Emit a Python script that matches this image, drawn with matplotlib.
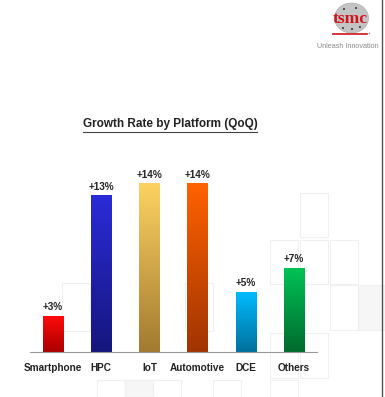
import numpy as np
import matplotlib
matplotlib.use('Agg')
import matplotlib.pyplot as plt
from matplotlib.colors import LinearSegmentedColormap
from matplotlib.patches import Rectangle, Ellipse
from matplotlib.lines import Line2D

plt.rcParams['font.family'] = ['Liberation Sans', 'DejaVu Sans']

# ---------------- 数据 ----------------
categories = ['Smartphone', 'HPC', 'IoT', 'Automotive', 'DCE', 'Others']
growth = [3, 13, 14, 14, 5, 7]
top_colors = ['#ff0a0a', '#2b2bd8', '#fdd262', '#ff6200', '#00bbff', '#00c256']
bottom_colors = ['#a80000', '#16167e', '#a27a30', '#a03400', '#00709c', '#006a2e']
title = 'Growth Rate by Platform (QoQ)'

W, H = 385, 397
fig = plt.figure(figsize=(W / 100, H / 100), dpi=100)


def fx(x):
    return x / W


def fy(y):
    # 像素坐标（从上往下）转成figure坐标
    return 1 - y / H


# 背景里淡淡的方格（放在最底层）
boxes = [(300, 193, 28, 44), (270, 240, 28, 44), (300, 240, 28, 44), (330, 240, 28, 44),
         (330, 285, 28, 45), (270, 333, 28, 45), (300, 333, 28, 45), (185, 283, 28, 48),
         (62, 283, 28, 48), (97, 380, 28, 17), (153, 380, 28, 17), (213, 380, 28, 17),
         (270, 380, 28, 17)]
for bx, by, bw, bh in boxes:
    fig.patches.append(Rectangle((fx(bx), fy(by + bh)), bw / W, bh / H, transform=fig.transFigure,
                                 facecolor='none', edgecolor='#f0f0f0', lw=0.8, zorder=-2))
for bx, by, bw, bh in [(358, 285, 27, 45), (125, 380, 28, 17)]:
    fig.patches.append(Rectangle((fx(bx), fy(by + bh)), bw / W, bh / H, transform=fig.transFigure,
                                 facecolor='#f6f6f6', edgecolor='#f0f0f0', lw=0.8, zorder=-2))

# ---------------- 柱状图 ----------------
ax = fig.add_axes([fx(30), fy(352), (317 - 30) / W, (352 - 160) / H])
ax.patch.set_visible(False)
x = np.arange(len(categories))
bars = ax.bar(x, growth, width=0.42, color='none', zorder=3)

grad = np.linspace(0, 1, 256)[:, None]
for bar, c0, c1 in zip(bars, bottom_colors, top_colors):
    cmap = LinearSegmentedColormap.from_list('g', [c0, c1])
    x0 = bar.get_x()
    ax.imshow(grad, extent=[x0, x0 + bar.get_width(), 0, bar.get_height()],
              origin='lower', cmap=cmap, aspect='auto', zorder=2)

for xi, v in zip(x, growth):
    ax.annotate(f'+{v}%', (xi, v), xytext=(0, 3), textcoords='offset points',
                ha='center', va='bottom', fontsize=7.2, fontweight='bold', color='#222222')

ax.set_xlim(-0.48, 5.48)
ax.set_ylim(0, 16)
for s in ['top', 'right', 'left']:
    ax.spines[s].set_visible(False)
ax.spines['bottom'].set_color('#9a9a9a')
ax.spines['bottom'].set_linewidth(0.8)
ax.set_yticks([])
ax.set_xticks(x, categories, fontsize=7.2, fontweight='bold', color='#222222')
ax.tick_params(axis='x', length=0, pad=8)

# 标题 + 下划线
t = fig.text(fx(170), fy(124), title, ha='center', va='center',
             fontsize=8.5, fontweight='bold', color='#222222')
fig.canvas.draw()
bb = t.get_window_extent()
fig.add_artist(Line2D([bb.x0 / W, bb.x1 / W], [fy(131.5)] * 2, color='#444444', lw=0.8))

# ---------------- logo ----------------
fig.patches.append(Ellipse((fx(351.5), fy(18)), 34 / W, 30 / H, transform=fig.transFigure,
                           facecolor='#c4c4c4', edgecolor='#b0b0b0', lw=0.5, zorder=1))
for dx, dy in [(344, 9), (356, 8), (343, 28), (352, 29), (360, 27)]:
    fig.patches.append(Ellipse((fx(dx), fy(dy)), 2 / W, 2 / H, transform=fig.transFigure,
                               facecolor='#333333', edgecolor='none', zorder=2))
fig.text(fx(350), fy(19), 'tsmc', family='Liberation Serif', fontweight='bold',
         fontsize=12.5, color='#d0141c', ha='center', va='center', zorder=3)
fig.add_artist(Line2D([fx(333), fx(367)], [fy(34)] * 2, color='#d0141c', lw=1.2))
fig.patches.append(Ellipse((fx(369.5), fy(33.5)), 1.5 / W, 1.5 / H, transform=fig.transFigure,
                           facecolor='#888888', edgecolor='none'))
fig.text(fx(379), fy(46), 'Unleash Innovation', ha='right', va='center',
         fontsize=5.2, color='#8a8a8a')

# 右侧竖线
fig.add_artist(Line2D([fx(382)] * 2, [0, 1], color='#555555', lw=1))

plt.savefig('out.png', dpi=100)
plt.close()
